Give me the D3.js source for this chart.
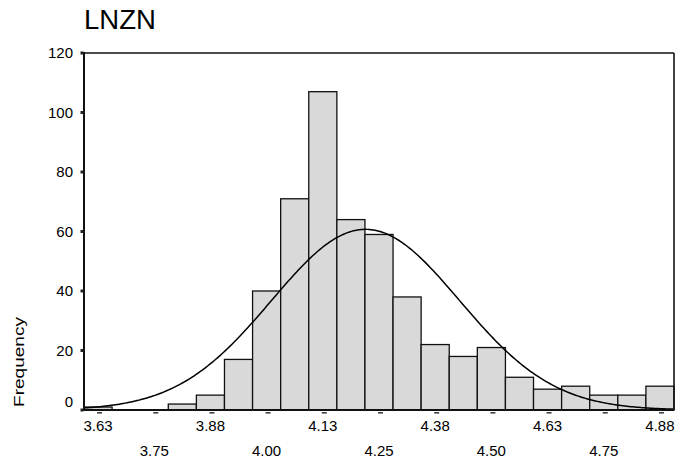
<!DOCTYPE html>
<html>
<head>
<meta charset="utf-8">
<script src="https://cdn.jsdelivr.net/npm/d3@7/dist/d3.min.js"></script>
<style>
  html, body { margin: 0; padding: 0; background: #fff; }
  svg { display: block; font-family: Arial, "Liberation Sans", sans-serif; }
</style>
</head>
<body>
<svg id="chart" width="686" height="461"></svg>
<script>
// ---- data ----
const title = "LNZN";
const yLabel = "Frequency";
const binWidth = 0.0625;
const binCenters = [3.625, 3.6875, 3.75, 3.8125, 3.875, 3.9375, 4.0, 4.0625, 4.125, 4.1875,
  4.25, 4.3125, 4.375, 4.4375, 4.5, 4.5625, 4.625, 4.6875, 4.75, 4.8125, 4.875];
const counts = [1, 0, 0, 2, 5, 17, 40, 71, 107, 64, 59, 38, 22, 18, 21, 11, 7, 8, 5, 5, 8];
const xTickValues = [3.625, 3.75, 3.875, 4.0, 4.125, 4.25, 4.375, 4.5, 4.625, 4.75, 4.875];
const xTickLabels = ["3.63", "3.75", "3.88", "4.00", "4.13", "4.25", "4.38", "4.50", "4.63", "4.75", "4.88"];
const yTickValues = [0, 20, 40, 60, 80, 100, 120];
const normalMean = 4.22;
const normalSd = 0.209;

// ---- layout ----
const svg = d3.select("#chart");
const pLeft = 84, pRight = 674, pTop = 53, pBottom = 410;

const x = d3.scaleLinear()
  .domain([binCenters[0] - binWidth / 2, binCenters[binCenters.length - 1] + binWidth / 2])
  .range([pLeft, pRight]);
const y = d3.scaleLinear().domain([0, 120]).range([pBottom, pTop]);

// title
svg.append("text").attr("x", 84).attr("y", 29)
  .attr("font-size", 27.5).attr("fill", "#000").text(title);

// bars
const bins = binCenters.map((c, i) => ({ c, n: counts[i] })).filter(d => d.n > 0);
svg.append("g").selectAll("rect").data(bins).join("rect")
  .attr("x", d => x(d.c - binWidth / 2))
  .attr("width", d => x(d.c + binWidth / 2) - x(d.c - binWidth / 2))
  .attr("y", d => y(d.n))
  .attr("height", d => y(0) - y(d.n))
  .attr("fill", "#d9d9d9")
  .attr("stroke", "#111")
  .attr("stroke-width", 1.3);

// normal curve
const N = d3.sum(counts);
const [x0, x1] = x.domain();
const curvePts = d3.range(0, 301).map(i => {
  const v = x0 + (x1 - x0) * i / 300;
  const z = (v - normalMean) / normalSd;
  return [v, N * binWidth / (normalSd * Math.sqrt(2 * Math.PI)) * Math.exp(-0.5 * z * z)];
});
svg.append("path")
  .datum(curvePts)
  .attr("d", d3.line().x(d => x(d[0])).y(d => y(d[1])))
  .attr("fill", "none").attr("stroke", "#000").attr("stroke-width", 1.5);

// frame
const frame = svg.append("g").attr("stroke", "#111").attr("fill", "none");
frame.append("line").attr("x1", pLeft).attr("x2", pRight).attr("y1", pTop).attr("y2", pTop).attr("stroke-width", 1.6);
frame.append("line").attr("x1", pRight).attr("x2", pRight).attr("y1", pTop).attr("y2", pBottom).attr("stroke-width", 1.6);
frame.append("line").attr("x1", pLeft).attr("x2", pLeft).attr("y1", pTop - 1).attr("y2", pBottom + 1).attr("stroke-width", 2);
frame.append("line").attr("x1", pLeft - 1).attr("x2", pRight).attr("y1", pBottom).attr("y2", pBottom).attr("stroke-width", 2);

// y axis ticks & labels
const yAxis = svg.append("g");
yAxis.selectAll("rect").data(yTickValues).join("rect")
  .attr("x", pLeft - 3.5).attr("y", d => y(d) - 1.5).attr("width", 3).attr("height", 3)
  .attr("fill", "#222");
yAxis.selectAll("text").data(yTickValues).join("text")
  .attr("x", 73)
  .attr("y", d => y(d) + (d === 0 ? -8 : 0))
  .attr("dy", "0.36em")
  .attr("text-anchor", "end")
  .attr("font-size", 15).attr("fill", "#000")
  .text(d => d);

// x axis ticks & labels
const xAxis = svg.append("g");
xAxis.selectAll("rect").data(xTickValues).join("rect")
  .attr("x", d => x(d) - 1).attr("y", pBottom + 2).attr("width", 5).attr("height", 1.6)
  .attr("fill", "#444");
xAxis.selectAll("text").data(xTickValues).join("text")
  .attr("x", d => x(d))
  .attr("y", (d, i) => i % 2 === 0 ? 431 : 456)
  .attr("text-anchor", "middle")
  .attr("font-size", 15).attr("fill", "#000")
  .text((d, i) => xTickLabels[i]);

// y label
svg.append("text")
  .attr("transform", "translate(24,362) rotate(-90)")
  .attr("text-anchor", "middle")
  .attr("font-size", 15.5)
  .attr("textLength", 90).attr("lengthAdjust", "spacingAndGlyphs")
  .attr("fill", "#000")
  .text(yLabel);
</script>
</body>
</html>
